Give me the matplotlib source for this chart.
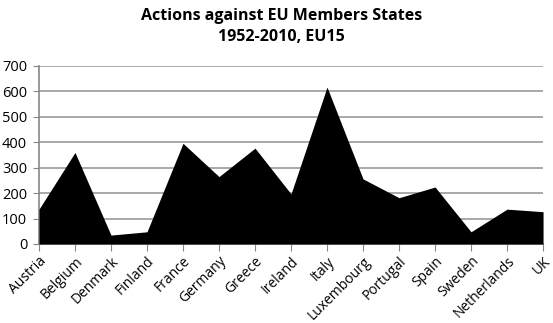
import numpy as np
import matplotlib.pyplot as plt

plt.rcParams['font.family'] = ['Open Sans', 'DejaVu Sans']

countries = ['Austria', 'Belgium', 'Denmark', 'Finland', 'France', 'Germany', 'Greece',
             'Ireland', 'Italy', 'Luxembourg', 'Portugal', 'Spain', 'Sweden', 'Netherlands', 'UK']
actions = [137, 360, 35, 48, 396, 265, 377, 197, 617, 256, 182, 224, 48, 137, 127]
yticks = [0, 100, 200, 300, 400, 500, 600, 700]

fig = plt.figure(figsize=(5.53, 3.23), dpi=100)
ax = fig.add_axes([0.0705, 0.2446, 0.9115, 0.5511])

x = np.arange(len(countries))
ax.fill_between(x, 0, actions, color='black', linewidth=0, zorder=3)

ax.set_xlim(0, len(countries) - 1)
ax.set_ylim(0, 700)
ax.set_yticks(yticks)
ax.set_xticks(x)
ax.set_xticklabels(countries, rotation=45, ha='right', rotation_mode='anchor', fontsize=10)
ax.tick_params(axis='y', labelsize=10.5, length=4, color='#888888', pad=4.5)
ax.tick_params(axis='x', length=5, color='#888888', pad=2)

ax.grid(axis='y', color='#999999', linewidth=1.2, zorder=0)
for s in ['top', 'right']:
    ax.spines[s].set_visible(False)
for s in ['left', 'bottom']:
    ax.spines[s].set_color('#888888')
    ax.spines[s].set_linewidth(1.2)

fig.text(0.509, 0.975, 'Actions against EU Members States\n1952-2010, EU15',
         ha='center', va='top', fontsize=11.5, fontweight='bold', linespacing=1.45)

fig.savefig('out.png', dpi=100)
